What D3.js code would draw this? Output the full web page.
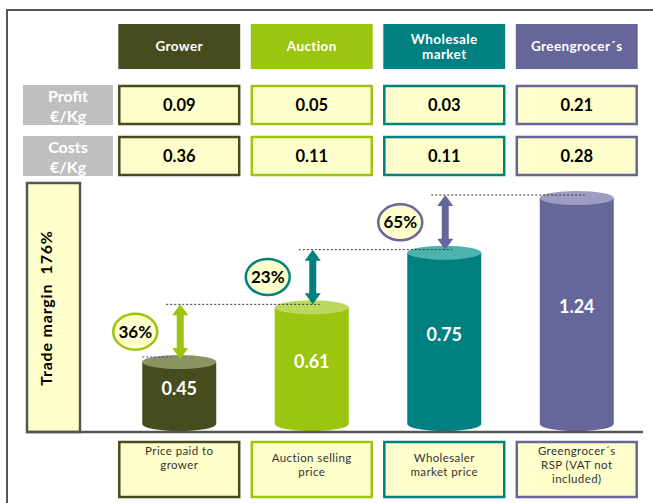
<!DOCTYPE html>
<html>
<head>
<meta charset="utf-8">
<script src="https://cdn.jsdelivr.net/npm/d3@7"></script>
<style>
  body { margin: 0; background: #fff; }
  svg { display: block; font-family: Lato, "Open Sans", sans-serif; }
</style>
</head>
<body>
<div id="chart"></div>
<script>
// data
const stages = ["Grower", "Auction", "Wholesale market", "Greengrocer´s"];
const headerLines = [["Grower"], ["Auction"], ["Wholesale", "market"], ["Greengrocer´s"]];
const profit = [0.09, 0.05, 0.03, 0.21];
const costs = [0.36, 0.11, 0.11, 0.28];
const price = [0.45, 0.61, 0.75, 1.24];
const margins = ["36%", "23%", "65%"];
const totalMargin = "Trade margin  176%";
const priceLabels = [
    ["Price paid to", "grower", ""],
    ["Auction selling", "price"],
    ["Wholesaler", "market price"],
    ["Greengrocer´s", "RSP (VAT not", "included)"]
];
const rowLabels = [["Profit", "€/Kg"], ["Costs", "€/Kg"]];

const colors = ["#474c1f", "#9bc50e", "#008080", "#66669a"];
const topColors = ["#8a9460", "#bcd95e", "#4db3af", "#9d9cc2"];
const cream = "#ffffcc";
const frame = "#555";

const width = 653, height = 503;

const svg = d3.select("#chart").append("svg")
    .attr("width", width)
    .attr("height", height);

// scales
const x = d3.scaleBand()
    .domain(stages)
    .range([113, 643])
    .paddingInner(0.08)
    .paddingOuter(0.04);

// cylinder heights step up by stage in the original drawing
const yTop = d3.scalePoint()
    .domain(stages)
    .range([362, 198]);

const baseY = 424;
const cylRx = 37, cylRy = 7;

// outer frame
svg.append("path")
    .attr("d", "M7,503V10H653")
    .attr("fill", "none")
    .attr("stroke", frame)
    .attr("stroke-width", 2);

// header boxes
const head = svg.selectAll(".head")
    .data(stages)
    .enter().append("g")
    .attr("class", "head");

head.append("rect")
    .attr("x", d => x(d))
    .attr("y", 24)
    .attr("width", x.bandwidth())
    .attr("height", 45)
    .attr("fill", (d, i) => colors[i]);

head.each(function(d, i) {
    const lines = headerLines[i];
    d3.select(this).selectAll("text")
        .data(lines)
        .enter().append("text")
        .attr("x", x(d) + x.bandwidth() / 2)
        .attr("y", (l, j) => 46.5 + (j - (lines.length - 1) / 2) * 15)
        .attr("dy", "0.35em")
        .attr("text-anchor", "middle")
        .attr("fill", "#fff")
        .attr("font-weight", "bold")
        .attr("font-size", 13.5)
        .attr("letter-spacing", 0.4)
        .text(l => l);
});

// profit / costs rows
const rows = [profit, costs];
const rowY = [85, 136];
const rowH = 40;

rows.forEach((vals, r) => {
    svg.append("rect")
        .attr("x", 23)
        .attr("y", rowY[r])
        .attr("width", 90)
        .attr("height", rowH)
        .attr("fill", "#bfbfbf");

    svg.selectAll(".rl" + r)
        .data(rowLabels[r])
        .enter().append("text")
        .attr("x", 68)
        .attr("y", (l, j) => rowY[r] + 11 + j * 20)
        .attr("dy", "0.35em")
        .attr("text-anchor", "middle")
        .attr("fill", "#fff")
        .attr("font-weight", "bold")
        .attr("font-size", 16)
        .text(l => l);

    const cell = svg.selectAll(".cell" + r)
        .data(vals)
        .enter().append("g");

    cell.append("rect")
        .attr("x", (d, i) => x(stages[i]) + 1)
        .attr("y", rowY[r] + 1)
        .attr("width", x.bandwidth() - 2)
        .attr("height", rowH - 2)
        .attr("fill", cream)
        .attr("stroke", (d, i) => colors[i])
        .attr("stroke-width", 2.5);

    cell.append("text")
        .attr("x", (d, i) => x(stages[i]) + x.bandwidth() / 2)
        .attr("y", rowY[r] + rowH / 2)
        .attr("dy", "0.35em")
        .attr("text-anchor", "middle")
        .attr("font-weight", "bold")
        .attr("font-size", 16.5)
        .attr("fill", "#000")
        .text(d => d3.format(".2f")(d));
});

// trade margin box
svg.append("rect")
    .attr("x", 27)
    .attr("y", 183)
    .attr("width", 53)
    .attr("height", 249)
    .attr("fill", cream)
    .attr("stroke", frame)
    .attr("stroke-width", 2.5);

svg.append("text")
    .attr("transform", "translate(46,308) rotate(-90)")
    .attr("dy", "0.35em")
    .attr("text-anchor", "middle")
    .attr("font-weight", "bold")
    .attr("font-size", 16)
    .attr("letter-spacing", 0.8)
    .attr("fill", "#000")
    .style("white-space", "pre")
    .text(totalMargin);

// cylinders
const cx = d => x(d) + x.bandwidth() / 2;

const cyl = svg.selectAll(".cyl")
    .data(price)
    .enter().append("g")
    .attr("class", "cyl");

cyl.append("path")
    .attr("d", (d, i) => {
        const c = cx(stages[i]), t = yTop(stages[i]);
        return `M${c - cylRx},${t}V${baseY}A${cylRx},${cylRy} 0 0 0 ${c + cylRx},${baseY}V${t}Z`;
    })
    .attr("fill", (d, i) => colors[i]);

cyl.append("ellipse")
    .attr("cx", (d, i) => cx(stages[i]))
    .attr("cy", (d, i) => yTop(stages[i]))
    .attr("rx", cylRx)
    .attr("ry", cylRy)
    .attr("fill", (d, i) => topColors[i]);

cyl.append("text")
    .attr("x", (d, i) => cx(stages[i]))
    .attr("y", (d, i) => (yTop(stages[i]) + baseY) / 2 - 4)
    .attr("dy", "0.35em")
    .attr("text-anchor", "middle")
    .attr("font-weight", "bold")
    .attr("font-size", 18)
    .attr("fill", "#fff")
    .text(d => d3.format(".2f")(d));

// baseline
svg.append("line")
    .attr("x1", 26).attr("x2", 643)
    .attr("y1", 432).attr("y2", 432)
    .attr("stroke", frame)
    .attr("stroke-width", 2.5);

// small dotted marker at the grower top
svg.append("line")
    .attr("x1", cx(stages[0]) - cylRx).attr("x2", cx(stages[0]) - 6)
    .attr("y1", yTop(stages[0]) - 5).attr("y2", yTop(stages[0]) - 5)
    .attr("stroke", "#4a4a9a")
    .attr("stroke-dasharray", "2,2");

// margin arrows, dotted guides and badges
function arrowPath(ax, y0, y1) {
    const s = 3.5, hw = 8, hl = 11;
    return `M${ax},${y0}L${ax + hw},${y0 + hl}L${ax + s},${y0 + hl}L${ax + s},${y1 - hl}` +
        `L${ax + hw},${y1 - hl}L${ax},${y1}L${ax - hw},${y1 - hl}L${ax - s},${y1 - hl}` +
        `L${ax - s},${y0 + hl}L${ax - hw},${y0 + hl}Z`;
}

const mg = svg.selectAll(".margin")
    .data(margins)
    .enter().append("g")
    .attr("class", "margin");

mg.each(function(d, i) {
    const g = d3.select(this);
    const ax = cx(stages[i]) + 1;
    const y0 = yTop(stages[i + 1]) - 3;
    const y1 = yTop(stages[i]) - 3;
    const col = colors[i + 1];

    g.append("line")
        .attr("x1", ax - 14).attr("x2", cx(stages[i + 1]) + 8)
        .attr("y1", y0).attr("y2", y0)
        .attr("stroke", "#333")
        .attr("stroke-dasharray", "2,2");

    g.append("path")
        .attr("d", arrowPath(ax, y0, y1))
        .attr("fill", col);

    const by = (y0 + y1) / 2;
    g.append("ellipse")
        .attr("cx", ax - 45)
        .attr("cy", by)
        .attr("rx", 22)
        .attr("ry", 18)
        .attr("fill", cream)
        .attr("stroke", col)
        .attr("stroke-width", 2.5);

    g.append("text")
        .attr("x", ax - 45)
        .attr("y", by)
        .attr("dy", "0.35em")
        .attr("text-anchor", "middle")
        .attr("font-weight", "bold")
        .attr("font-size", 17)
        .attr("fill", "#000")
        .text(d);
});

// price label boxes
const pl = svg.selectAll(".plabel")
    .data(stages)
    .enter().append("g")
    .attr("class", "plabel");

pl.append("rect")
    .attr("x", d => x(d) + 1)
    .attr("y", 442)
    .attr("width", x.bandwidth() - 2)
    .attr("height", 55)
    .attr("fill", cream)
    .attr("stroke", (d, i) => colors[i])
    .attr("stroke-width", 2.5);

pl.each(function(d, i) {
    const lines = priceLabels[i];
    d3.select(this).selectAll("text")
        .data(lines)
        .enter().append("text")
        .attr("x", cx(d))
        .attr("y", (l, j) => 465 + (j - (lines.length - 1) / 2) * 14)
        .attr("dy", "0.35em")
        .attr("text-anchor", "middle")
        .attr("font-size", 11.5)
        .attr("letter-spacing", 0.4)
        .attr("fill", "#333")
        .text(l => l);
});
</script>
</body>
</html>
